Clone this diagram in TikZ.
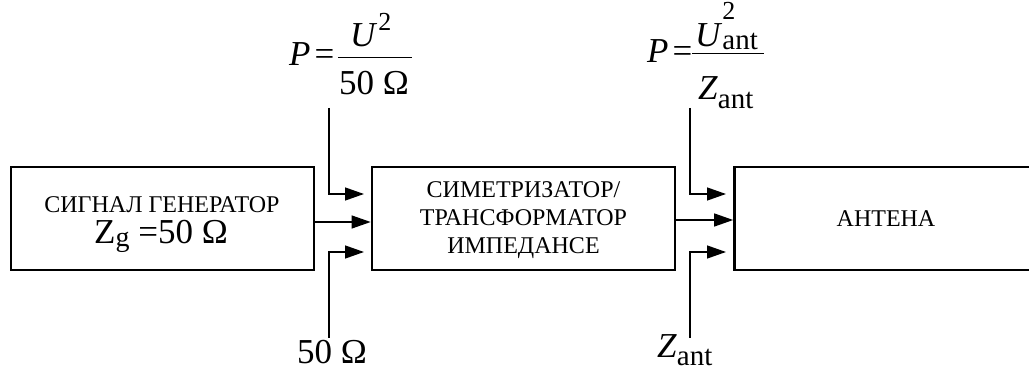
\documentclass[tikz,border=0pt]{standalone}
\usepackage{fontspec}
\setmainfont{Liberation Serif}
\usetikzlibrary{arrows.meta}
\begin{document}
\begin{tikzpicture}[x=1pt,y=-1pt,
  blk/.style={draw, line width=2.7pt, minimum width=303pt, minimum height=103pt, inner sep=0pt,
    font=\fontsize{24}{28}\selectfont, align=center},
  conn/.style={line width=1.3pt, -{Triangle[length=19pt,width=13pt]}},
  lbl/.style={font=\fontsize{35}{35}\selectfont, inner sep=0pt},
  sml/.style={font=\fontsize{24}{28}\selectfont, inner sep=0pt},
  fracline/.style={line width=1pt}]
\useasboundingbox (0,0) rectangle (1029,374);
% blocks
\node[blk] (box1) at (162.5,218.5) {};
\node[blk] (box2) at (523.5,218.5) {\rule{0pt}{20pt}СИМЕТРИЗАТОР/\\ТРАНСФОРМАТОР\\ИМПЕДАНСЕ};
\node[blk] (box3) at (886,218.5) {АНТЕНА};
% text of generator block
\node[sml, anchor=base] (gtitle) at (162,213) {СИГНАЛ ГЕНЕРАТОР};
\node[lbl, anchor=base] (gimp) at (161,244) {Z\raisebox{-3pt}{\fontsize{28}{28}\selectfont g} =50 Ω};
% free ends
\coordinate (t1) at (329,108);
\coordinate (e1) at (364,194);
\coordinate (b1) at (329,338);
\coordinate (e2) at (364,252);
\coordinate (t2) at (690,108);
\coordinate (e3) at (726,194);
\coordinate (b2) at (690,338);
\coordinate (e4) at (726,252);
% connectors
\draw[conn] ([yshift=-3.5pt]box1.east) -- ([yshift=-3.5pt]box2.west);
\draw[conn] ([yshift=-1.5pt]box2.east) -- ([yshift=-1.5pt]box3.west);
\draw[conn] (t1) |- (e1);
\draw[conn] (b1) |- (e2);
\draw[conn] (t2) |- (e3);
\draw[conn] (b2) |- (e4);
% top-left formula
\node[lbl, anchor=base west] (p1) at (289,66) {\textit{P}\kern4pt=};
\coordinate (f1a) at (338,58);
\coordinate (f1b) at (412,58);
\draw[fracline] (f1a) -- (f1b);
\node[lbl, anchor=base west] (n1) at (350,47) {\textit{U}\kern1pt\raisebox{16pt}{\fontsize{26}{26}\selectfont 2}};
\node[lbl, anchor=base] (d1) at (374,95) {50 Ω};
% bottom-left label
\node[lbl, anchor=base] (l1) at (332,363) {50 Ω};
% top-right formula
\node[lbl, anchor=base west] (p2) at (647,63) {\textit{P}\kern4pt=};
\coordinate (f2a) at (692,54);
\coordinate (f2b) at (764,54);
\draw[fracline] (f2a) -- (f2b);
\node[lbl, anchor=base west] (n2) at (695,47) {\textit{U}\rlap{\raisebox{27pt}{\fontsize{26}{26}\selectfont 2}}\raisebox{-3pt}{\fontsize{29}{29}\selectfont ant}};
\node[lbl, anchor=base west] (d2) at (698,100) {\textit{Z}\raisebox{-9pt}{\fontsize{29}{29}\selectfont ant}};
% bottom-right label
\node[lbl, anchor=base west] (l2) at (657,357) {\textit{Z}\raisebox{-8pt}{\fontsize{29}{29}\selectfont ant}};
\end{tikzpicture}
\end{document}
